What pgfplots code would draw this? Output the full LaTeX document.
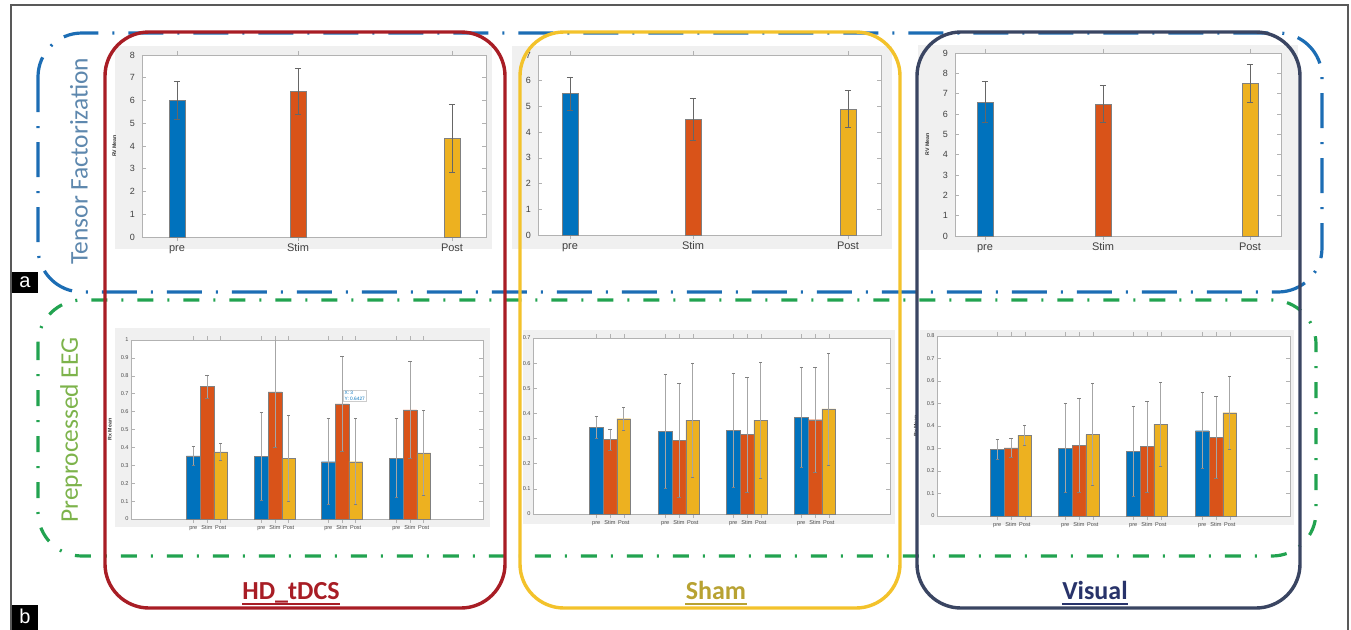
\documentclass[border=0pt]{standalone}
\usepackage{pgfplots}
\pgfplotsset{compat=1.18}
\usepackage{fontspec}
\setmainfont{Carlito}
\newfontfamily\arial{Liberation Sans}
\definecolor{mblue}{HTML}{0072BD}
\definecolor{morange}{HTML}{D95319}
\definecolor{myellow}{HTML}{EDB120}
\definecolor{frameblue}{HTML}{1C6DB4}
\definecolor{framegreen}{HTML}{22A350}
\definecolor{fred}{HTML}{A81D25}
\definecolor{fyellow}{HTML}{F3C22B}
\definecolor{fnavy}{HTML}{3A4562}
\definecolor{tfblue}{HTML}{5E88AE}
\definecolor{ppgreen}{HTML}{7DB34B}
\definecolor{shamtxt}{HTML}{B8A232}
\definecolor{vistxt}{HTML}{28336A}
\definecolor{figgrey}{HTML}{F0F0F0}
\pgfplotsset{
  mat/.style={scale only axis, anchor=south west, ymin=0, xmin=0,
    axis background/.style={fill=white},
    axis line style={gray!60, line width=0.4pt},
    tick style={gray!60, line width=0.3pt},
    major tick length=2pt,
    /pgf/number format/assume math mode=true,
    ybar, bar shift=0pt,
    error bars/y dir=both, error bars/y explicit,
    error bars/error mark=|,
    error bars/error bar style={gray!80!black, line width=0.35pt},
    error bars/error mark options={gray!80!black, mark size=1.6pt, line width=0.35pt},
    every axis plot/.append style={draw=black!50, line width=0.2pt},
    ylabel style={font=\arial\bfseries\fontsize{2.6}{3}\selectfont, text=black!80},
  },
  top/.style={mat, height=91pt, ytick distance=1,
    yticklabel style={font=\arial\fontsize{4.5}{5}\selectfont, text=black!75},
    xticklabel style={font=\arial\fontsize{5.5}{6}\selectfont, text=black!75, text height=4pt, text depth=0.8pt, inner sep=1pt},
    xticklabels={pre,Stim,Post}, bar width=8pt},
  bot/.style={mat, ytick distance=0.1,
    yticklabel style={font=\arial\fontsize{2.8}{3}\selectfont, text=black!70, inner sep=1pt},
    xticklabel style={font=\arial\fontsize{2.8}{3}\selectfont, text=black!70, text height=2pt, text depth=0.5pt, inner sep=0.8pt},
    xticklabels={pre,Stim,Post,pre,Stim,Post,pre,Stim,Post,pre,Stim,Post},
    bar width=6.85pt, error bars/error mark options={gray, mark size=0.8pt, line width=0.3pt},
    error bars/error bar style={gray!70, line width=0.35pt}},
}
\begin{document}
\begin{tikzpicture}
\useasboundingbox (0,0) rectangle (675.5pt,314.5pt);
\fill[white] (0,0) rectangle (675.5pt,314.5pt);
\begin{scope}[x=0.5pt,y=-0.5pt,yshift=314.5pt]
\fill[figgrey] (115,46) rectangle (492,249);
\fill[figgrey] (512,46) rectangle (892,249);
\fill[figgrey] (918,45) rectangle (1298,250);
\fill[figgrey] (115,328) rectangle (490,527);
\fill[figgrey] (523,330) rectangle (895,524);
\fill[figgrey] (920,330) rectangle (1294,525);
\end{scope}

% ---------- top row ----------
\begin{axis}[top, at={(71pt,196pt)}, width=172pt, xmax=344, ymax=8,
  xtick={35,156,310}, ylabel={RV Mean}]
\addplot[fill=mblue] coordinates {(35,6.0) +- (0,0.85)};
\addplot[fill=morange] coordinates {(156,6.4) +- (0,1.0)};
\addplot[fill=myellow] coordinates {(310,4.33) +- (0,1.48)};
\end{axis}
\begin{axis}[top, at={(269pt,197pt)}, width=171.5pt, height=90pt, xmax=343, ymax=7,
  xtick={32,155,310}]
\addplot[fill=mblue] coordinates {(32,5.5) +- (0,0.65)};
\addplot[fill=morange] coordinates {(155,4.5) +- (0,0.8)};
\addplot[fill=myellow] coordinates {(310,4.9) +- (0,0.73)};
\end{axis}
\begin{axis}[top, at={(477.5pt,196.5pt)}, width=163pt, height=91.5pt, xmax=326, ymax=9,
  xtick={30,148,295}, ylabel={RV Mean}]
\addplot[fill=mblue] coordinates {(30,6.6) +- (0,1.0)};
\addplot[fill=morange] coordinates {(148,6.5) +- (0,0.9)};
\addplot[fill=myellow] coordinates {(295,7.5) +- (0,0.95)};
\end{axis}

% ---------- bottom row ----------
\begin{axis}[bot, at={(65.5pt,55pt)}, width=176pt, height=89.5pt, xmax=352, ymax=1,
  xtick={62.3,76,89.7,130.3,144,157.7,197.3,211,224.7,265.3,279,292.7}, ylabel={Rx Mean}]
\addplot[fill=mblue] coordinates {(62.3,0.353) +- (0,0.052) (130.3,0.35) +- (0,0.245) (197.3,0.32) +- (0,0.24) (265.3,0.34) +- (0,0.22)};
\addplot[fill=morange] coordinates {(76,0.74) +- (0,0.065) (144,0.71) +- (0,0.31) (211,0.643) +- (0,0.267) (279,0.61) +- (0,0.27)};
\addplot[fill=myellow] coordinates {(89.7,0.375) +- (0,0.049) (157.7,0.34) +- (0,0.24) (224.7,0.32) +- (0,0.24) (292.7,0.37) +- (0,0.235)};
\node[anchor=south west, draw=gray!40, fill=white, inner sep=0.6pt, align=left,
  font=\arial\fontsize{2.4}{2.8}\selectfont, text=mblue] at (axis cs:212,0.655) {X: 3\\Y: 0.6427};
\end{axis}
\begin{axis}[bot, at={(266.5pt,57.5pt)}, width=178.5pt, height=88pt, xmax=357, ymax=0.7,
  xtick={63.2,77,90.8,132.2,146,159.8,200.2,214,227.8,268.2,282,295.8}]
\addplot[fill=mblue] coordinates {(63.2,0.345) +- (0,0.044) (132.2,0.329) +- (0,0.225) (200.2,0.333) +- (0,0.228) (268.2,0.385) +- (0,0.2)};
\addplot[fill=morange] coordinates {(77,0.296) +- (0,0.042) (146,0.293) +- (0,0.228) (214,0.316) +- (0,0.228) (282,0.375) +- (0,0.21)};
\addplot[fill=myellow] coordinates {(90.8,0.379) +- (0,0.045) (159.8,0.373) +- (0,0.228) (227.8,0.373) +- (0,0.23) (295.8,0.418) +- (0,0.223)};
\end{axis}
\begin{axis}[bot, at={(468.5pt,56.5pt)}, width=176.5pt, height=90pt, xmax=353, ymax=0.8,
  xtick={60.2,74,87.8,128.2,142,155.8,196.2,210,223.8,265.2,279,292.8}, ylabel={Rx Mean}]
\addplot[fill=mblue] coordinates {(60.2,0.296) +- (0,0.045) (128.2,0.302) +- (0,0.198) (196.2,0.286) +- (0,0.2) (265.2,0.379) +- (0,0.169)};
\addplot[fill=morange] coordinates {(74,0.303) +- (0,0.044) (142,0.314) +- (0,0.21) (210,0.309) +- (0,0.203) (279,0.349) +- (0,0.183)};
\addplot[fill=myellow] coordinates {(87.8,0.36) +- (0,0.045) (155.8,0.362) +- (0,0.227) (223.8,0.408) +- (0,0.187) (292.8,0.459) +- (0,0.163)};
\end{axis}

% ---------- frames and labels ----------
\begin{scope}[x=0.5pt,y=-0.5pt,yshift=314.5pt]
\draw[gray!70!black, line width=0.6pt] (11,640) -- (11,5) -- (1348,5) -- (1348,640);
\draw[frameblue, line width=1.6pt, rounded corners=22pt, dash pattern=on 17.5pt off 7pt on 1pt off 7pt]
  (38,33) rectangle (1322,292);
\draw[framegreen, line width=1.6pt, rounded corners=22pt, dash pattern=on 8pt off 7pt on 1pt off 7pt]
  (38,300) rectangle (1316,556);
\draw[fred, line width=1.7pt, rounded corners=22pt] (105,32) rectangle (505,608);
\draw[fyellow, line width=1.7pt, rounded corners=22pt] (520,32) rectangle (900,608);
\draw[fnavy, line width=1.7pt, rounded corners=22pt] (917,32) rectangle (1300,608);
\node[rotate=90, text=tfblue, font=\fontsize{12.7}{13}\selectfont] at (79,161) {Tensor Factorization};
\node[rotate=90, text=ppgreen, font=\fontsize{12.7}{13}\selectfont] at (71,430) {Preprocessed EEG};
\node[inner sep=0, anchor=base, text=fred, font=\bfseries\fontsize{13}{14}\selectfont] (hd) at (291,599) {HD\_tDCS};
\draw[fred, line width=1.1pt] ([yshift=-2.4pt]hd.base west) -- ([yshift=-2.4pt]hd.base east);
\node[inner sep=0, anchor=base, text=shamtxt, font=\bfseries\fontsize{13}{14}\selectfont] (sh) at (716,599) {Sham};
\draw[shamtxt, line width=1.1pt] ([yshift=-2.4pt]sh.base west) -- ([yshift=-2.4pt]sh.base east);
\node[inner sep=0, anchor=base, text=vistxt, font=\bfseries\fontsize{13}{14}\selectfont] (vi) at (1095,599) {Visual};
\draw[vistxt, line width=1.1pt] ([yshift=-2.4pt]vi.base west) -- ([yshift=-2.4pt]vi.base east);
\fill[black] (12,272) rectangle (38,293);
\node[text=white, font=\arial\fontsize{10}{10}\selectfont] at (25,282) {a};
\fill[black] (12,605) rectangle (38,632);
\node[text=white, font=\arial\fontsize{10}{10}\selectfont] at (25,616) {b};
\end{scope}
\end{tikzpicture}
\end{document}
